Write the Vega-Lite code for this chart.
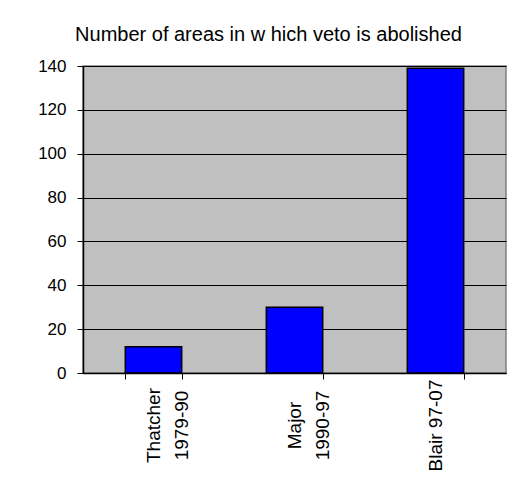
{
  "$schema": "https://vega.github.io/schema/vega-lite/v6.json",
  "width": 423,
  "height": 307,
  "autosize": {"type": "none"},
  "padding": {"left": 83, "top": 66, "right": 6, "bottom": 119},
  "background": "white",
  "title": {
    "text": "Number of areas in w hich veto is abolished",
    "font": "Liberation Sans",
    "fontSize": 20,
    "fontWeight": "normal",
    "color": "black",
    "anchor": "middle",
    "frame": "group",
    "dx": -26,
    "baseline": "alphabetic",
    "offset": -4
  },
  "data": {
    "values": [
      {"period": "Thatcher 1979-90", "areas": 12},
      {"period": "Major 1990-97", "areas": 30},
      {"period": "Blair 97-07", "areas": 139}
    ]
  },
  "mark": {"type": "bar", "fill": "#0000FF", "stroke": "black", "strokeWidth": 1.5},
  "encoding": {
    "x": {
      "field": "period",
      "type": "nominal",
      "sort": null,
      "scale": {"paddingInner": 0.6, "paddingOuter": 0.3},
      "axis": {
        "title": null,
        "labelExpr": "datum.value == 'Thatcher 1979-90' ? ['Thatcher', '1979-90'] : datum.value == 'Major 1990-97' ? ['Major', '1990-97'] : datum.value",
        "labelAngle": -90,
        "labelAlign": "center",
        "labelBaseline": "middle",
        "labelPadding": 46,
        "labelLineHeight": 28,
        "labelFont": "Liberation Sans",
        "labelFontSize": 19,
        "labelColor": "black",
        "tickBand": "extent",
        "tickSize": 6,
        "tickColor": "black",
        "domainColor": "black",
        "grid": false
      }
    },
    "y": {
      "field": "areas",
      "type": "quantitative",
      "scale": {"domain": [0, 140]},
      "axis": {
        "title": null,
        "values": [0, 20, 40, 60, 80, 100, 120, 140],
        "labelFont": "Liberation Sans",
        "labelFontSize": 17,
        "labelColor": "black",
        "labelPadding": 11,
        "tickSize": 6,
        "tickColor": "black",
        "domainColor": "black",
        "gridColor": "black",
        "gridWidth": 1,
        "gridOpacity": 1
      }
    }
  },
  "config": {
    "view": {"fill": "#C0C0C0", "stroke": "#808080", "strokeWidth": 1.5},
    "axis": {"domainWidth": 1.5, "tickWidth": 1}
  }
}
